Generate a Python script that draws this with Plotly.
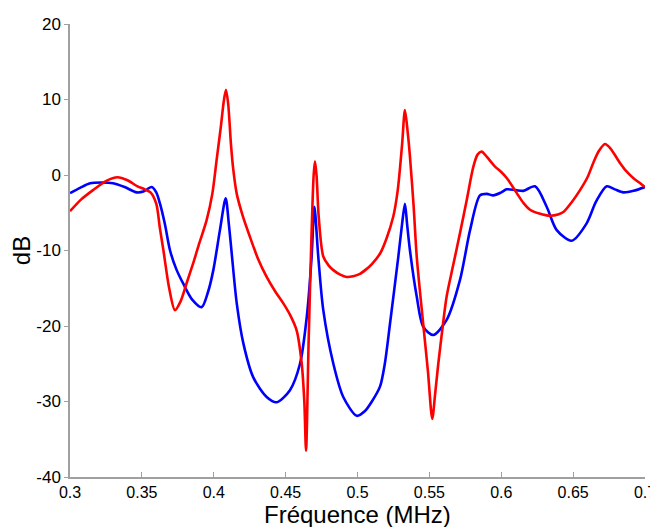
import plotly.graph_objects as go

freq_red = [0.300,0.308,0.316,0.325,0.333,0.340,0.347,0.352,0.356,0.360,0.3625,0.365,0.369,0.373,0.377,0.381,0.386,0.390,0.395,0.399,0.402,0.405,0.407,0.4085,0.410,0.412,0.4136,0.416,0.420,0.4252,0.431,0.4368,0.443,0.4484,0.453,0.4577,0.4612,0.4630,0.4642,0.4660,0.468,0.4695,0.4704,0.4715,0.4730,0.4762,0.480,0.4832,0.4880,0.4925,0.4970,0.5017,0.506,0.510,0.5157,0.520,0.5249,0.528,0.531,0.533,0.5350,0.5365,0.5390,0.5412,0.5457,0.549,0.552,0.554,0.5562,0.559,0.562,0.5665,0.5713,0.576,0.5806,0.5835,0.5863,0.590,0.5957,0.600,0.6038,0.6108,0.6154,0.620,0.6265,0.6339,0.6400,0.6432,0.6490,0.6548,0.660,0.664,0.668,0.6722,0.676,0.6826,0.6870,0.6918,0.696,0.700]
db_red = [-4.8,-3.2,-2.0,-0.8,-0.3,-0.7,-1.5,-1.9,-2.3,-3.8,-7.0,-10.0,-15.0,-17.9,-16.7,-14.4,-11.5,-9.0,-6.0,-2.5,2.0,6.5,9.8,11.3,9.5,4.0,0.7,-2.5,-5.3,-8.2,-11.2,-13.5,-15.5,-17.0,-18.5,-20.6,-25.0,-30.0,-36.5,-22.0,-8.0,0.0,1.8,0.0,-5.5,-10.8,-12.0,-12.6,-13.2,-13.5,-13.4,-13.1,-12.5,-11.8,-10.4,-8.5,-5.5,-2.0,4.0,8.6,5.5,2.4,-4.0,-10.8,-19.7,-26.0,-32.3,-29.0,-25.0,-20.5,-16.1,-12.0,-7.7,-3.3,1.1,2.7,3.1,2.4,1.1,0.4,-0.4,-2.4,-3.7,-4.6,-5.1,-5.4,-5.2,-4.9,-3.6,-2.0,-0.3,1.6,3.2,4.1,3.5,1.6,0.5,-0.4,-1.0,-1.6]

freq_blue = [0.300,0.307,0.314,0.322,0.330,0.338,0.3464,0.351,0.3568,0.360,0.3626,0.366,0.3696,0.374,0.3788,0.385,0.3916,0.396,0.3997,0.4043,0.4083,0.4105,0.4125,0.416,0.4206,0.4275,0.4368,0.4438,0.453,0.460,0.4647,0.4681,0.470,0.4727,0.4762,0.4832,0.4901,0.4995,0.505,0.510,0.5157,0.519,0.5226,0.5284,0.531,0.533,0.5345,0.5365,0.5412,0.5457,0.5527,0.562,0.5713,0.5783,0.5852,0.590,0.5945,0.600,0.6038,0.610,0.6154,0.6235,0.6316,0.6386,0.649,0.6594,0.666,0.6734,0.679,0.685,0.692,0.700]
db_blue = [-2.4,-1.7,-1.1,-1.0,-1.1,-1.6,-2.3,-2.2,-1.6,-2.3,-3.8,-6.5,-10.0,-12.5,-14.4,-16.5,-17.5,-15.5,-12.6,-7.3,-3.1,-6.5,-10.4,-17.0,-22.3,-26.8,-29.4,-30.1,-28.5,-25.0,-18.8,-10.8,-4.2,-10.8,-17.9,-25.0,-29.4,-31.9,-31.3,-30.0,-28.0,-25.0,-19.7,-10.8,-6.5,-3.8,-6.5,-10.0,-16.1,-20.1,-21.2,-19.2,-13.9,-7.3,-2.7,-2.5,-2.7,-2.3,-1.9,-2.0,-2.1,-1.5,-4.2,-7.3,-8.7,-6.4,-3.5,-1.5,-1.9,-2.3,-2.1,-1.6]

x_ticks = [0.3,0.35,0.4,0.45,0.5,0.55,0.6,0.65,0.7]
x_tick_text = ["0.3","0.35","0.4","0.45","0.5","0.55","0.6","0.65","0.7"]
y_ticks = [-40,-30,-20,-10,0,10,20]
y_tick_text = ["-40","-30","-20","-10","0","10","20"]
x_title = "Fréquence (MHz)"
y_title = "dB"

FONT = "Liberation Sans, Arial, sans-serif"

fig = go.Figure()
fig.add_trace(go.Scatter(x=freq_blue, y=db_blue, mode="lines",
                         line=dict(color="#0000FF", width=2.6, shape="spline", smoothing=0.8),
                         showlegend=False))
fig.add_trace(go.Scatter(x=freq_red, y=db_red, mode="lines",
                         line=dict(color="#FF0000", width=2.6, shape="spline", smoothing=0.8),
                         showlegend=False))

W, H = 650, 519
M = dict(l=62, r=13, t=16, b=50)
plot_h = H - M["t"] - M["b"]

# the page adds an 8px body margin, so the figure is sized/offset to compensate
fig.update_layout(
    width=W, height=H,
    margin=M,
    paper_bgcolor="white", plot_bgcolor="white",
    font=dict(family=FONT, color="black"),
    xaxis=dict(range=[0.3, 0.7], tickvals=x_ticks, ticktext=x_tick_text, automargin=False,
               showgrid=False, zeroline=False, showline=True, linecolor="#a0a0a0", linewidth=1.5,
               ticks="inside", ticklen=5, tickcolor="#a0a0a0", tickwidth=1.2,
               tickfont=dict(size=16, family=FONT, color="black")),
    yaxis=dict(range=[-40, 20], tickvals=y_ticks, ticktext=y_tick_text, automargin=False,
               showgrid=False, zeroline=False, showline=True, linecolor="#a0a0a0", linewidth=1.5,
               ticks="outside", ticklen=4, tickcolor="#a0a0a0", tickwidth=1.2,
               tickfont=dict(size=17, family=FONT, color="black"),
               title=dict(text=y_title, font=dict(size=24, family=FONT, color="black"), standoff=6)),
    annotations=[dict(text=x_title, xref="paper", yref="paper", x=0.5, y=-M["b"] / plot_h,
                      xanchor="center", yanchor="bottom", yshift=-1.5, showarrow=False, borderpad=0,
                      font=dict(size=24, family=FONT, color="black"))],
)

fig.write_html("out.html")
